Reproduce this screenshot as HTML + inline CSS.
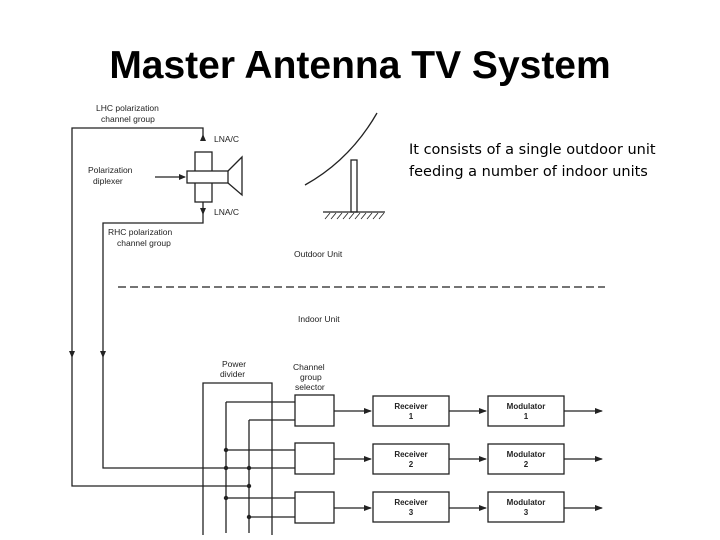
<!DOCTYPE html>
<html><head><style>
body{margin:0;width:720px;height:540px;background:#fff;overflow:hidden;position:relative;font-family:"Liberation Sans",sans-serif}
.t{position:absolute;white-space:nowrap}
</style></head><body>
<div class="t" style="left:0;width:720px;text-align:center;top:44px;font-size:39px;font-weight:bold;font-family:'Liberation Sans',sans-serif;">Master Antenna TV System</div>
<div class="t" style="left:409px;top:139px;font-size:14.5px;line-height:22px;font-family:'DejaVu Sans',sans-serif">It consists of a single outdoor unit<br>feeding a number of indoor units</div>
<svg width="720" height="540" style="position:absolute;left:0;top:0" font-family="Liberation Sans" font-size="8.5" fill="#222">
<g stroke="#222" stroke-width="1.3" fill="none">
<polyline points="72,470 72,128 203,128 203,140"/>
<polyline points="203,202 203,223 103,223 103,468 295,468"/>
<rect x="195" y="152" width="17" height="50"/>
<rect x="187" y="171" width="41" height="12" fill="#fff"/>
<polyline points="228,171 242,157 242,195 228,183"/>
<line x1="155" y1="177" x2="185" y2="177"/>
<path d="M305,185 Q350,160 377,113"/>
<rect x="351" y="160" width="6" height="52"/>
<line x1="323" y1="212" x2="385" y2="212"/>
<line x1="118" y1="287" x2="605" y2="287" stroke-dasharray="8,4"/>
<polyline points="203,535 203,383 272,383 272,535"/>
<line x1="226" y1="402" x2="226" y2="533"/>
<line x1="249" y1="420" x2="249" y2="533"/>
<line x1="226" y1="402" x2="295" y2="402"/>
<line x1="249" y1="420" x2="295" y2="420"/>
<line x1="226" y1="450" x2="295" y2="450"/>
<polyline points="72,470 72,486 249,486"/>
<line x1="226" y1="498" x2="295" y2="498"/>
<line x1="249" y1="517" x2="295" y2="517"/>
<rect x="295" y="395" width="39" height="31"/><rect x="295" y="443" width="39" height="31"/><rect x="295" y="492" width="39" height="31"/>
<rect x="373" y="396" width="76" height="30"/><rect x="373" y="444" width="76" height="30"/><rect x="373" y="492" width="76" height="30"/>
<rect x="488" y="396" width="76" height="30"/><rect x="488" y="444" width="76" height="30"/><rect x="488" y="492" width="76" height="30"/>
<line x1="334" y1="411" x2="371" y2="411"/><line x1="334" y1="459" x2="371" y2="459"/><line x1="334" y1="508" x2="371" y2="508"/>
<line x1="449" y1="411" x2="486" y2="411"/><line x1="449" y1="459" x2="486" y2="459"/><line x1="449" y1="508" x2="486" y2="508"/>
<line x1="564" y1="411" x2="602" y2="411"/><line x1="564" y1="459" x2="602" y2="459"/><line x1="564" y1="508" x2="602" y2="508"/>
</g>
<g stroke="#222" stroke-width="0.8"><path d="M325,219 l5,-6 M331,219 l5,-6 M337,219 l5,-6 M343,219 l5,-6 M349,219 l5,-6 M355,219 l5,-6 M361,219 l5,-6 M367,219 l5,-6 M373,219 l5,-6 M379,219 l5,-6"/></g>
<g fill="#222">
<path d="M200,141 L203,134 L206,141Z"/><path d="M200,208 L203,215 L206,208Z"/><path d="M179,174 L186,177 L179,180Z"/>
<path d="M69,351 L72,358 L75,351Z"/><path d="M100,351 L103,358 L106,351Z"/>
<circle cx="226" cy="450" r="2.2"/><circle cx="226" cy="468" r="2.2"/><circle cx="249" cy="468" r="2.2"/><circle cx="249" cy="486" r="2.2"/><circle cx="226" cy="498" r="2.2"/><circle cx="249" cy="517" r="2.2"/>
<path d="M364,408 L372,411 L364,414Z"/><path d="M364,456 L372,459 L364,462Z"/><path d="M364,505 L372,508 L364,511Z"/>
<path d="M479,408 L487,411 L479,414Z"/><path d="M479,456 L487,459 L479,462Z"/><path d="M479,505 L487,508 L479,511Z"/>
<path d="M595,408 L603,411 L595,414Z"/><path d="M595,456 L603,459 L595,462Z"/><path d="M595,505 L603,508 L595,511Z"/>
</g>
<text x="96" y="111">LHC polarization</text><text x="101" y="122">channel group</text>
<text x="214" y="142">LNA/C</text><text x="214" y="215">LNA/C</text>
<text x="88" y="173">Polarization</text><text x="93" y="184">diplexer</text>
<text x="108" y="235">RHC polarization</text><text x="117" y="246">channel group</text>
<text x="294" y="257">Outdoor Unit</text><text x="298" y="322">Indoor Unit</text>
<text x="222" y="367">Power</text><text x="220" y="377">divider</text>
<text x="293" y="370">Channel</text><text x="300" y="380">group</text><text x="295" y="390">selector</text>
<g text-anchor="middle" font-weight="bold" font-size="8">
<text x="411" y="409">Receiver</text><text x="411" y="419">1</text>
<text x="411" y="457">Receiver</text><text x="411" y="467">2</text>
<text x="411" y="505">Receiver</text><text x="411" y="515">3</text>
<text x="526" y="409">Modulator</text><text x="526" y="419">1</text>
<text x="526" y="457">Modulator</text><text x="526" y="467">2</text>
<text x="526" y="505">Modulator</text><text x="526" y="515">3</text>
</g>
</svg>
</body></html>
